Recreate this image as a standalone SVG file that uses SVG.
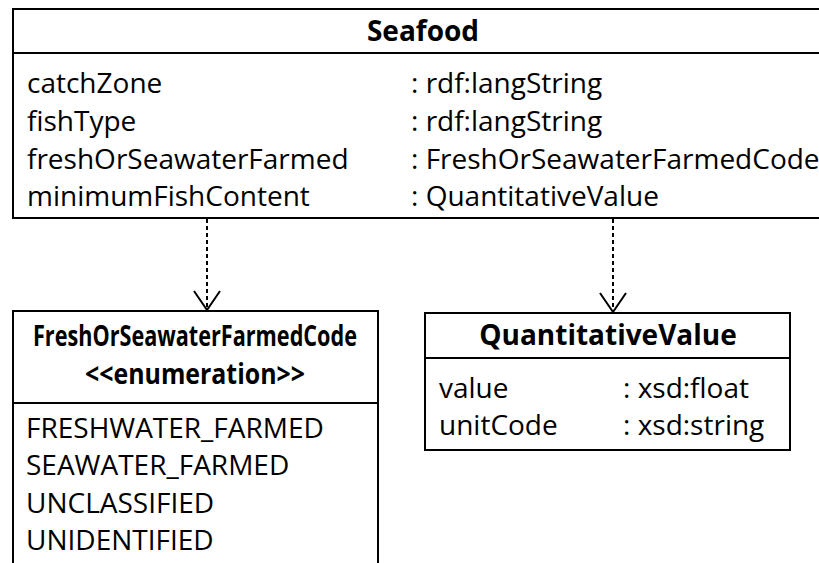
<svg xmlns="http://www.w3.org/2000/svg" width="819" height="563" viewBox="0 0 819 563">
<style>
.box{fill:#fff;stroke:#000;stroke-width:2}
.div{stroke:#000;stroke-width:2}
.t{font-family:"Open Sans","Liberation Sans",sans-serif;font-size:28px;fill:#000}
.b{font-family:"Open Sans","Liberation Sans",sans-serif;font-size:28px;font-weight:bold;fill:#000;text-anchor:middle}
.dep{stroke:#000;stroke-width:2;stroke-dasharray:4 3;fill:none}
</style>
<defs>
<marker id="open" markerUnits="userSpaceOnUse" markerWidth="40" markerHeight="40" refX="0" refY="0" orient="auto" overflow="visible">
<path d="M-19,-13 L0,0 L-19,13" fill="none" stroke="#000" stroke-width="2"/>
</marker>
</defs>
<g id="connectors">
<line class="dep" x1="207" y1="219" x2="207" y2="310" marker-end="url(#open)"/>
<line class="dep" x1="613" y1="219" x2="613" y2="312" marker-end="url(#open)"/>
</g>
<g id="Seafood">
<rect class="box" x="13" y="9" width="830" height="209"/>
<line class="div" x1="13" y1="53" x2="843" y2="53"/>
<text class="b" x="423" y="41">Seafood</text>
<text class="t" x="27" y="93">catchZone</text>
<text class="t" x="27" y="131">fishType</text>
<text class="t" x="27" y="169">freshOrSeawaterFarmed</text>
<text class="t" x="27" y="206">minimumFishContent</text>
<text class="t" x="411" y="93">: rdf:langString</text>
<text class="t" x="411" y="131">: rdf:langString</text>
<text class="t" x="411" y="169">: FreshOrSeawaterFarmedCode</text>
<text class="t" x="411" y="206">: QuantitativeValue</text>
</g>
<g id="FreshOrSeawaterFarmedCode">
<rect class="box" x="13" y="311" width="365" height="270"/>
<line class="div" x1="13" y1="403" x2="378" y2="403"/>
<text class="b" x="195" y="346" textLength="324" lengthAdjust="spacingAndGlyphs">FreshOrSeawaterFarmedCode</text>
<text class="b" x="195" y="384" textLength="220" lengthAdjust="spacingAndGlyphs">&lt;&lt;enumeration&gt;&gt;</text>
<text class="t" x="26" y="438">FRESHWATER_FARMED</text>
<text class="t" x="26" y="475">SEAWATER_FARMED</text>
<text class="t" x="26" y="513">UNCLASSIFIED</text>
<text class="t" x="26" y="550">UNIDENTIFIED</text>
</g>
<g id="QuantitativeValue">
<rect class="box" x="425" y="313" width="365" height="137"/>
<line class="div" x1="425" y1="358" x2="790" y2="358"/>
<text class="b" x="608" y="345">QuantitativeValue</text>
<text class="t" x="439" y="398">value</text>
<text class="t" x="439" y="435">unitCode</text>
<text class="t" x="623" y="398">: xsd:float</text>
<text class="t" x="623" y="435">: xsd:string</text>
</g>
</svg>
